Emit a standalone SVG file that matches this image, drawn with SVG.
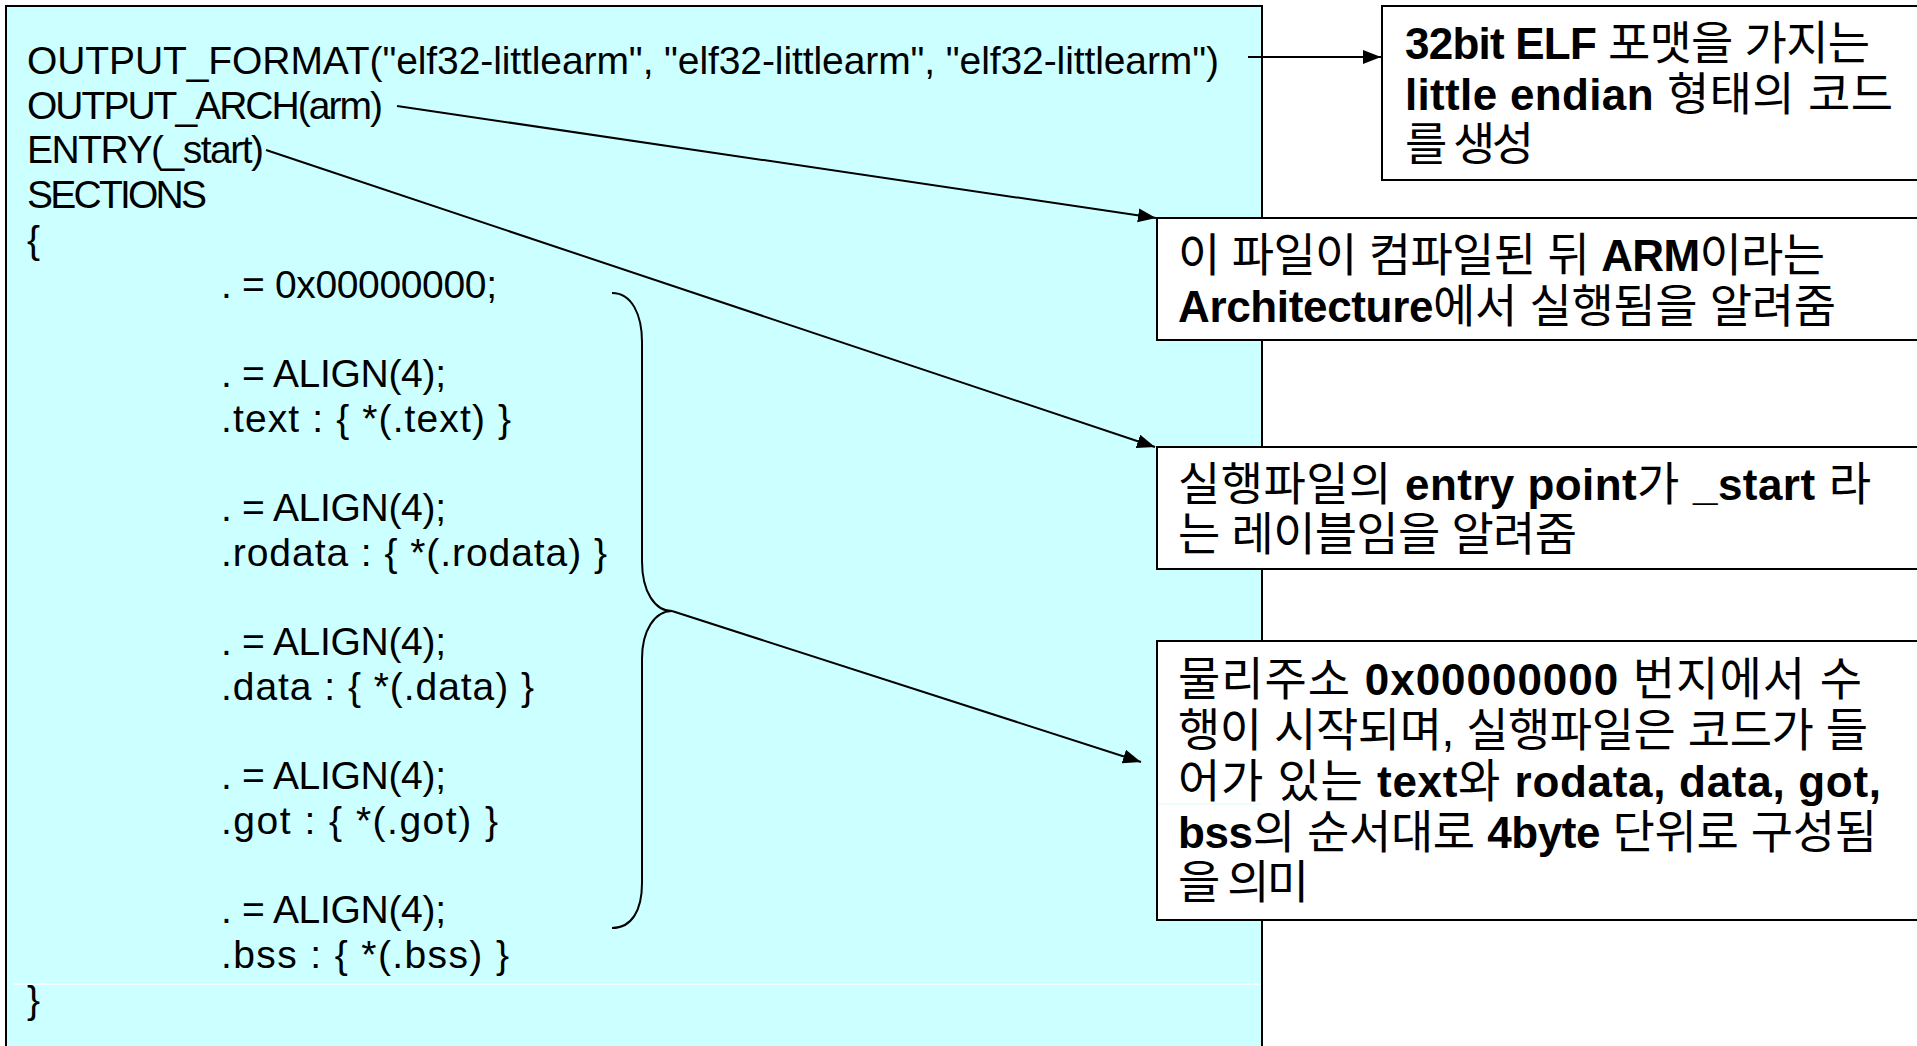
<svg xmlns="http://www.w3.org/2000/svg" width="1917" height="1046" viewBox="0 0 1917 1046">
  <style>
    .code { font-family: "Liberation Sans", Arial, sans-serif; font-size: 39px; fill: #000; }
    .note { font-family: "Liberation Sans", "Noto Sans CJK KR", sans-serif; font-size: 46px; fill: #000; }
    .b { font-weight: bold; font-size: 44px; }
    .box { fill: #fff; stroke: #000; stroke-width: 2; }
    .conn { fill: none; stroke: #000; stroke-width: 2; }
  </style>
  <defs>
    <marker id="arrow" markerUnits="userSpaceOnUse" markerWidth="19" markerHeight="15" refX="18" refY="7" orient="auto">
      <path d="M0,0 L18,7 L0,14 z" fill="#000"/>
    </marker>
  </defs>
  <rect width="1917" height="1046" fill="#fff"/>

  <g id="linker-script">
    <rect x="6" y="6" width="1256" height="1060" fill="#CCFFFF" stroke="#000" stroke-width="2"/>
    <line x1="13" y1="984" x2="1261" y2="984" stroke="#fff" stroke-width="1.5"/>
    <text class="code" x="27" y="74" textLength="1192" lengthAdjust="spacing">OUTPUT_FORMAT("elf32-littlearm", "elf32-littlearm", "elf32-littlearm")</text>
    <text class="code" x="27" y="118.7" textLength="356" lengthAdjust="spacing">OUTPUT_ARCH(arm)</text>
    <text class="code" x="27" y="163.4" textLength="237" lengthAdjust="spacing">ENTRY(_start)</text>
    <text class="code" x="27" y="208.1" textLength="180" lengthAdjust="spacing">SECTIONS</text>
    <text class="code" x="27" y="252.8">{</text>
    <text class="code" x="221" y="297.5" textLength="276" lengthAdjust="spacing">. = 0x00000000;</text>
    <text class="code" x="221" y="386.9" textLength="225" lengthAdjust="spacing">. = ALIGN(4);</text>
    <text class="code" x="221" y="431.6" textLength="290" lengthAdjust="spacing">.text : { *(.text) }</text>
    <text class="code" x="221" y="521" textLength="225" lengthAdjust="spacing">. = ALIGN(4);</text>
    <text class="code" x="221" y="565.7" textLength="386" lengthAdjust="spacing">.rodata : { *(.rodata) }</text>
    <text class="code" x="221" y="655.1" textLength="225" lengthAdjust="spacing">. = ALIGN(4);</text>
    <text class="code" x="221" y="699.8" textLength="313" lengthAdjust="spacing">.data : { *(.data) }</text>
    <text class="code" x="221" y="789.2" textLength="225" lengthAdjust="spacing">. = ALIGN(4);</text>
    <text class="code" x="221" y="833.9" textLength="277" lengthAdjust="spacing">.got : { *(.got) }</text>
    <text class="code" x="221" y="923.3" textLength="225" lengthAdjust="spacing">. = ALIGN(4);</text>
    <text class="code" x="221" y="968" textLength="288" lengthAdjust="spacing">.bss : { *(.bss) }</text>
    <text class="code" x="27" y="1012.7">}</text>
  </g>

  <g id="brace">
    <path class="conn" d="M612,293 C632,293 642,315 642,342 L642,561 C642,592 655,611 672,611 C655,611 642,630 642,659 L642,883 C642,910 632,928 612,928"/>
  </g>

  <g id="note-format">
    <rect class="box" x="1382" y="6" width="560" height="174"/>
    <text class="note" x="1405" y="59" textLength="465" lengthAdjust="spacing"><tspan class="b">32bit ELF</tspan> 포맷을 가지는</text>
    <text class="note" x="1405" y="110" textLength="488" lengthAdjust="spacing"><tspan class="b">little endian</tspan> 형태의 코드</text>
    <text class="note" x="1405" y="160" textLength="129" lengthAdjust="spacing">를 생성</text>
  </g>

  <g id="note-arch">
    <rect class="box" x="1157" y="218" width="790" height="122"/>
    <text class="note" x="1178" y="271" textLength="647" lengthAdjust="spacing">이 파일이 컴파일된 뒤 <tspan class="b">ARM</tspan>이라는</text>
    <text class="note" x="1178" y="322" textLength="658" lengthAdjust="spacing"><tspan class="b">Architecture</tspan>에서 실행됨을 알려줌</text>
  </g>

  <g id="note-entry">
    <rect class="box" x="1157" y="447" width="790" height="122"/>
    <text class="note" x="1178" y="500" textLength="693" lengthAdjust="spacing">실행파일의 <tspan class="b">entry point</tspan>가 <tspan class="b">_start</tspan> 라</text>
    <text class="note" x="1178" y="550" textLength="399" lengthAdjust="spacing">는 레이블임을 알려줌</text>
  </g>

  <g id="note-sections">
    <rect class="box" x="1157" y="641" width="790" height="279"/>
    <line x1="1158" y1="804" x2="1261" y2="804" stroke="#dcfcfc" stroke-width="1"/>
    <text class="note" x="1178" y="695" textLength="684" lengthAdjust="spacing">물리주소 <tspan class="b">0x00000000</tspan> 번지에서 수</text>
    <text class="note" x="1178" y="746" textLength="690" lengthAdjust="spacing">행이 시작되며, 실행파일은 코드가 들</text>
    <text class="note" x="1178" y="797" textLength="703" lengthAdjust="spacing">어가 있는 <tspan class="b">text</tspan>와 <tspan class="b">rodata, data, got,</tspan></text>
    <text class="note" x="1178" y="848" textLength="699" lengthAdjust="spacing"><tspan class="b">bss</tspan>의 순서대로 <tspan class="b">4byte</tspan> 단위로 구성됨</text>
    <text class="note" x="1178" y="898" textLength="131" lengthAdjust="spacing">을 의미</text>
  </g>

  <g id="connectors">
    <line class="conn" x1="1248" y1="57" x2="1381" y2="57" marker-end="url(#arrow)"/>
    <line class="conn" x1="397" y1="106" x2="1156" y2="218" marker-end="url(#arrow)"/>
    <line class="conn" x1="266" y1="150" x2="1155" y2="447" marker-end="url(#arrow)"/>
    <line class="conn" x1="672" y1="611" x2="1141" y2="762" marker-end="url(#arrow)"/>
  </g>
</svg>
